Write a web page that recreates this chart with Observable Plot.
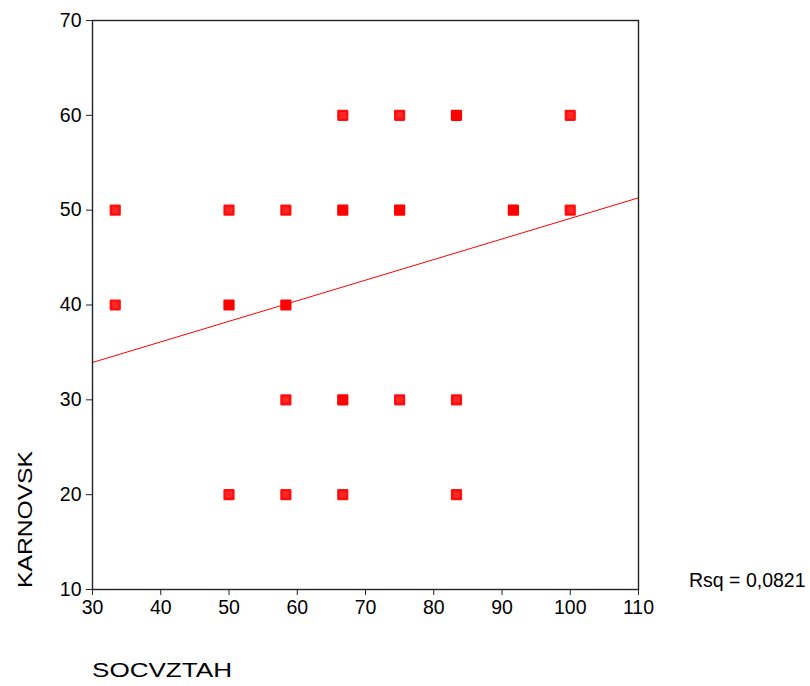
<!DOCTYPE html>
<html>
<head>
<meta charset="utf-8">
<script src="https://cdn.jsdelivr.net/npm/d3@7"></script>
<script src="https://cdn.jsdelivr.net/npm/@observablehq/plot@0.6"></script>
<style>
  html, body { margin: 0; padding: 0; background: #fff; }
</style>
</head>
<body>
<div id="chart"></div>
<script>
// SOCVZTAH values (x) of each marker
const socvztah = [66.67, 75, 83.33, 100,
                  33.33, 50, 58.33, 66.67, 75, 91.67, 100,
                  33.33, 50, 58.33,
                  58.33, 66.67, 75, 83.33,
                  50, 58.33, 66.67, 83.33];
// KARNOVSK values (y) of each marker
const karnovsk = [60, 60, 60, 60,
                  50, 50, 50, 50, 50, 50, 50,
                  40, 40, 40,
                  30, 30, 30, 30,
                  20, 20, 20, 20];
// estimated number of overlapping cases (solid markers = many)
const cases = [2, 2, 4, 2,
               2, 2, 2, 4, 4, 4, 2,
               2, 4, 4,
               2, 4, 2, 2,
               2, 2, 2, 2];
// linear fit line endpoints
const fitX = [30, 110];
const fitY = [33.94, 51.3];
const xTicks = [30, 40, 50, 60, 70, 80, 90, 100, 110];
const yTicks = [10, 20, 30, 40, 50, 60, 70];
const xTitle = "SOCVZTAH";
const yTitle = "KARNOVSK";
const rsqText = "Rsq = 0,0821";

const points = socvztah.map((x, i) => ({x, y: karnovsk[i], n: cases[i]}));
const fit = fitX.map((x, i) => ({x, y: fitY[i]}));

const chart = Plot.plot({
  width: 810,
  height: 686,
  marginLeft: 92,
  marginRight: 172,
  marginTop: 20,
  marginBottom: 97,
  style: {fontFamily: "'Liberation Sans', Arial, sans-serif", fontSize: "19.5px", color: "#000", background: "#fff"},
  x: {domain: [30, 110], label: null},
  y: {domain: [10, 70], label: null},
  marks: [
    Plot.axisX({ticks: xTicks, tickSize: 6, tickPadding: 5, fontSize: 19.5, label: null, stroke: "#222", fill: "#000"}),
    Plot.axisY({ticks: yTicks, tickSize: 6, tickPadding: 5, fontSize: 19.5, label: null, stroke: "#222", fill: "#000"}),
    Plot.line(fit, {x: "x", y: "y", stroke: "#ff0000", strokeWidth: 1}),
    Plot.dot(points, {
      x: "x", y: "y", symbol: "square", r: 5.1,
      fill: "#ff0000", stroke: "#ff0000", strokeWidth: 2.2, strokeLinejoin: "round",
      fillOpacity: d => d.n >= 3 ? 1 : 0.85,
      strokeOpacity: d => d.n >= 3 ? 1 : 0.9
    }),
    Plot.frame({stroke: "#222", strokeWidth: 1.4})
  ]
});

const svg = d3.select(chart);
svg.append("text")
  .attr("x", 92).attr("y", 677)
  .attr("text-anchor", "start")
  .attr("font-size", 20.5)
  .attr("textLength", 140).attr("lengthAdjust", "spacingAndGlyphs")
  .attr("fill", "#000")
  .text(xTitle);
svg.append("text")
  .attr("transform", "translate(32,588) rotate(-90)")
  .attr("text-anchor", "start")
  .attr("font-size", 20.5)
  .attr("textLength", 137).attr("lengthAdjust", "spacingAndGlyphs")
  .attr("fill", "#000")
  .text(yTitle);
svg.append("text")
  .attr("x", 689).attr("y", 587)
  .attr("text-anchor", "start")
  .attr("font-size", 19.5)
  .attr("fill", "#000")
  .text(rsqText);

document.getElementById("chart").appendChild(chart);
</script>
</body>
</html>
